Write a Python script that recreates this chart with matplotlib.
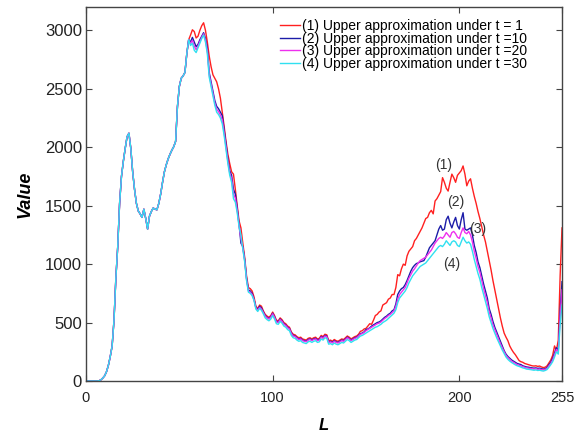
import numpy as np
import matplotlib.pyplot as plt

plt.rcParams['font.family'] = ['Liberation Sans', 'DejaVu Sans']

# gray levels 0..255
levels = np.arange(256)

# L = 0..55, the four curves lie on top of each other here
shared_low = [0, 0, 0, 0, 0, 0, 0, 2, 10, 25,
              45, 80, 135, 210, 300, 520, 880, 1150, 1520, 1750,
              1880, 1990, 2090, 2120, 1990, 1790, 1640, 1520, 1455, 1430,
              1400, 1470, 1390, 1300, 1410, 1450, 1480, 1470, 1465, 1520,
              1600, 1700, 1790, 1850, 1900, 1940, 1975, 2005, 2050, 2350,
              2520, 2590, 2610, 2640, 2800, 2920]

# L = 56..255 for each t
upper_t1 = [2960, 3005, 2990, 2935, 2950, 3000, 3040, 3065, 3000, 2900,
            2780, 2690, 2620, 2590, 2560, 2500, 2420, 2300, 2180, 2050,
            1940, 1860, 1790, 1770, 1640, 1500, 1370, 1310, 1180, 1060,
            900, 800, 790, 770, 720, 640, 620, 650, 640, 600,
            570, 555, 545, 560, 590, 560, 520, 515, 540, 525,
            500, 490, 470, 460, 420, 400, 395, 380, 370, 375,
            360, 355, 350, 365, 370, 360, 370, 375, 360, 365,
            390, 380, 400, 395, 345, 350, 340, 355, 345, 340,
            350, 360, 355, 370, 385, 375, 360, 370, 380, 385,
            400, 425, 430, 445, 450, 470, 490, 485, 520, 560,
            570, 590, 600, 650, 660, 670, 700, 710, 740, 740,
            800, 910, 900, 960, 1000, 990, 1070, 1110, 1130, 1150,
            1200, 1220, 1250, 1280, 1310, 1350, 1390, 1400, 1440, 1460,
            1430, 1540, 1560, 1590, 1620, 1740, 1700, 1650, 1625, 1700,
            1770, 1740, 1700, 1760, 1780, 1800, 1840, 1770, 1670, 1710,
            1730, 1650, 1580, 1520, 1450, 1390, 1320, 1250, 1190, 1110,
            1030, 950, 860, 780, 700, 620, 540, 470, 410, 375,
            345, 300, 270, 245, 225, 200, 175, 165, 160, 150,
            145, 140, 135, 130, 128, 130, 125, 128, 120, 115,
            118, 130, 155, 180, 220, 300, 260, 350, 900, 1310]

upper_t10 = [2900, 2940, 2900, 2860, 2880, 2920, 2950, 2980, 2930, 2850,
             2640, 2560, 2480, 2400, 2350, 2330, 2300, 2270, 2150, 2030,
             1900, 1800, 1760, 1640, 1600, 1480, 1340, 1180, 1150, 1040,
             880, 780, 770, 750, 700, 630, 610, 640, 625, 590,
             560, 545, 535, 550, 580, 550, 510, 505, 530, 515,
             490, 480, 460, 450, 410, 390, 385, 370, 360, 365,
             350, 345, 340, 355, 360, 350, 360, 365, 350, 355,
             380, 370, 390, 385, 335, 340, 330, 345, 335, 330,
             340, 350, 345, 360, 375, 365, 350, 360, 370, 375,
             390, 405, 410, 420, 440, 445, 455, 470, 480, 490,
             500, 505, 515, 530, 545, 555, 570, 580, 600, 610,
             660, 740, 770, 790, 800, 825, 860, 900, 940, 970,
             990, 1005, 1010, 1020, 1025, 1030, 1060, 1100, 1140, 1160,
             1180, 1200, 1250, 1300, 1330, 1290, 1300, 1380, 1410, 1350,
             1310, 1360, 1400, 1330, 1300, 1380, 1440, 1300, 1290, 1300,
             1310, 1250, 1160, 1100, 1020, 970, 900, 830, 770, 710,
             620, 570, 510, 460, 420, 380, 340, 300, 260, 230,
             210, 195, 180, 170, 160, 150, 145, 140, 130, 125,
             120, 118, 115, 112, 110, 112, 108, 110, 105, 102,
             105, 115, 140, 160, 195, 240, 285, 260, 600, 850]

upper_t20 = [2885, 2915, 2865, 2835, 2865, 2905, 2940, 2970, 2915, 2825,
             2620, 2540, 2460, 2380, 2325, 2305, 2275, 2235, 2125, 2005,
             1880, 1780, 1730, 1600, 1565, 1460, 1330, 1215, 1140, 1030,
             870, 770, 760, 740, 695, 625, 605, 630, 615, 585,
             555, 540, 530, 545, 575, 545, 505, 500, 525, 510,
             485, 475, 455, 445, 405, 385, 380, 365, 355, 360,
             345, 340, 335, 350, 355, 345, 355, 360, 345, 350,
             375, 365, 385, 380, 330, 335, 325, 340, 330, 325,
             335, 345, 340, 355, 370, 360, 345, 355, 365, 370,
             385, 400, 405, 415, 430, 440, 450, 460, 470, 480,
             490, 495, 505, 520, 535, 545, 560, 570, 585, 600,
             640, 700, 740, 760, 780, 800, 840, 880, 910, 940,
             960, 985, 1010, 1030, 1040, 1050, 1060, 1080, 1100, 1120,
             1150, 1180, 1200, 1220, 1230, 1220, 1240, 1270, 1250, 1230,
             1270, 1280, 1260, 1230, 1220, 1270, 1310, 1270, 1260, 1280,
             1250, 1190, 1110, 1050, 980, 930, 860, 790, 730, 670,
             590, 540, 480, 440, 400, 360, 320, 285, 250, 220,
             200, 185, 170, 160, 150, 140, 135, 130, 122, 118,
             112, 110, 108, 105, 102, 105, 100, 102, 98, 95,
             100, 108, 130, 150, 180, 225, 270, 250, 550, 780]

upper_t30 = [2870, 2890, 2830, 2810, 2850, 2890, 2930, 2960, 2900, 2800,
             2600, 2520, 2440, 2360, 2300, 2280, 2250, 2200, 2100, 1980,
             1860, 1760, 1700, 1560, 1530, 1440, 1320, 1250, 1130, 1020,
             860, 760, 750, 730, 690, 615, 595, 620, 605, 575,
             540, 525, 515, 530, 560, 530, 490, 485, 510, 495,
             470, 460, 440, 430, 390, 370, 365, 350, 340, 345,
             330, 325, 320, 335, 340, 330, 340, 345, 330, 335,
             360, 350, 370, 365, 315, 320, 310, 325, 315, 310,
             320, 330, 325, 340, 355, 345, 330, 340, 350, 355,
             370, 385, 390, 400, 410, 420, 430, 440, 450, 460,
             465, 475, 485, 500, 510, 520, 535, 550, 565, 580,
             610, 670, 710, 730, 750, 770, 800, 840, 870, 900,
             920, 940, 960, 980, 990, 1000, 1010, 1030, 1050, 1070,
             1090, 1110, 1130, 1150, 1160, 1150, 1170, 1200, 1180, 1160,
             1190, 1200, 1190, 1160, 1150, 1190, 1230, 1200, 1180, 1190,
             1170, 1110, 1040, 980, 920, 870, 800, 740, 680, 620,
             550, 500, 450, 410, 370, 335, 300, 265, 235, 205,
             185, 170, 158, 148, 138, 130, 125, 118, 112, 108,
             102, 100, 98, 95, 92, 95, 90, 92, 88, 85,
             90, 98, 118, 140, 165, 205, 250, 230, 480, 650]

series_labels = ['(1) Upper approximation under t = 1',
                 '(2) Upper approximation under t =10',
                 '(3) Upper approximation under t =20',
                 '(4) Upper approximation under t =30']
series_colors = ['#ff2020', '#1c1ca8', '#ee30ee', '#30e0f0']
curve_tags = ['(1)', '(2)', '(3)', '(4)']
tag_x = [191.4, 197.9, 209.6, 195.7]
tag_y = [1846, 1530, 1299, 1000]

fig = plt.figure(figsize=(5.81, 4.33), dpi=100)
ax = fig.add_axes([86 / 581, 1 - 381 / 433, 476 / 581, 374 / 433])

all_series = [upper_t1, upper_t10, upper_t20, upper_t30]
for vals, lab, col in zip(all_series, series_labels, series_colors):
    ax.plot(levels, shared_low + vals, color=col, lw=1.0, label=lab)

for tag, tx, ty in zip(curve_tags, tag_x, tag_y):
    ax.text(tx, ty, tag, ha='center', va='center', fontsize=10, color='#333333')

ax.set_xlim(0, 255)
ax.set_ylim(0, 3200)
ax.set_xticks([0, 100, 200, 255])
ax.set_yticks(np.arange(0, 3001, 500))
ax.tick_params(direction='in', top=True, right=True, length=4, width=0.8,
               colors='#444444', labelcolor='#222222')
ax.tick_params(axis='x', labelsize=10.5, pad=7)
ax.tick_params(axis='y', labelsize=12, pad=3)
for sp in ax.spines.values():
    sp.set_color('#444444')
    sp.set_linewidth(1.0)

ax.set_xlabel('L', fontsize=12, fontweight='bold', fontstyle='italic', va='center')
ax.xaxis.set_label_coords(0.5, -0.1195)
ax.set_ylabel('Value', fontsize=13, fontweight='bold', fontstyle='italic', va='center')
ax.yaxis.set_label_coords(-0.128, 0.5)

ax.legend(loc='upper left', bbox_to_anchor=(0.4076, 0.968), frameon=False,
          fontsize=10, borderaxespad=0, borderpad=0, handlelength=1.45,
          handletextpad=0.15, labelspacing=-0.1)

plt.savefig('out.png', dpi=100)
